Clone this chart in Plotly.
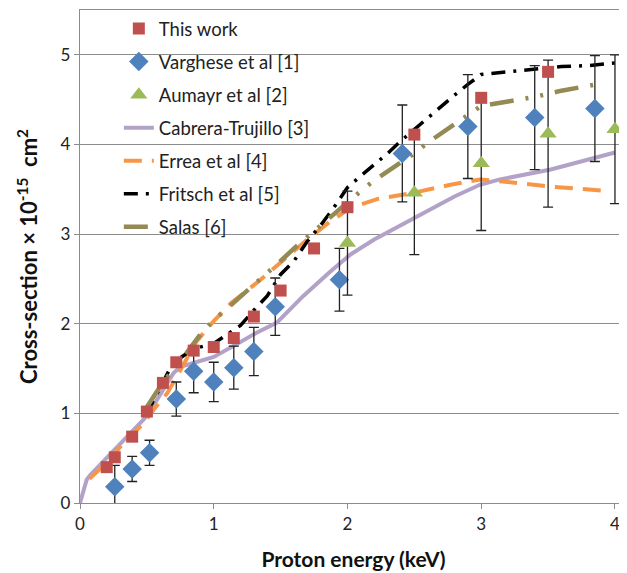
import plotly.graph_objects as go

# ---------------- data ----------------
tw_x = [0.20, 0.26, 0.39, 0.50, 0.62, 0.72, 0.85, 1.00, 1.15, 1.30, 1.50, 1.75, 2.00, 2.50, 3.00, 3.50]
tw_y = [0.40, 0.51, 0.74, 1.02, 1.34, 1.57, 1.70, 1.74, 1.84, 2.08, 2.37, 2.84, 3.30, 4.11, 4.52, 4.81]

var_x = [0.26, 0.39, 0.52, 0.72, 0.85, 1.00, 1.15, 1.30, 1.46, 1.94, 2.41, 2.90, 3.40, 3.85]
var_y = [0.18, 0.38, 0.56, 1.16, 1.47, 1.35, 1.51, 1.69, 2.19, 2.49, 3.90, 4.20, 4.30, 4.40]
var_err = [0.24, 0.14, 0.14, 0.19, 0.24, 0.22, 0.24, 0.27, 0.32, 0.35, 0.54, 0.58, 0.58, 0.59]

aum_x = [2.0, 2.5, 3.0, 3.5, 4.0]
aum_y = [2.90, 3.46, 3.79, 4.12, 4.17]
aum_err = [0.58, 0.69, 0.75, 0.82, 0.83]

cab_x = [0.0, 0.01, 0.025, 0.05, 0.075, 0.10, 0.17, 0.32, 0.50, 0.62, 0.70, 0.75, 0.82, 1.00, 1.17,
         1.32, 1.47, 1.67, 1.87, 2.02, 2.20, 2.39, 2.60, 2.80, 2.99, 3.14, 3.52, 4.00]
cab_y = [0.0, 0.06, 0.15, 0.26, 0.31, 0.35, 0.45, 0.69, 0.97, 1.26, 1.45, 1.52, 1.55, 1.63, 1.77,
         1.90, 2.01, 2.31, 2.58, 2.77, 2.94, 3.09, 3.26, 3.42, 3.55, 3.61, 3.72, 3.91]

err_x = [0.07, 0.20, 0.32, 0.47, 0.56, 0.65, 0.75, 0.87, 1.00, 1.13, 1.35, 1.55, 1.70, 1.87, 2.02,
         2.22, 2.49, 2.77, 2.99, 3.14, 3.52, 3.96]
err_y = [0.27, 0.45, 0.66, 0.88, 1.06, 1.22, 1.48, 1.80, 2.03, 2.23, 2.49, 2.75, 2.94, 3.14, 3.29,
         3.39, 3.46, 3.55, 3.61, 3.59, 3.53, 3.48]

fri_x = [0.50, 0.60, 0.68, 0.75, 0.85, 1.00, 1.10, 1.20, 1.30, 1.40, 1.50, 1.60, 1.70, 1.80, 1.90,
         2.00, 2.10, 2.20, 2.30, 2.40, 2.50, 2.60, 2.70, 2.80, 2.90, 3.00, 3.20, 3.40, 3.60, 3.80, 4.00]
fri_y = [1.00, 1.28, 1.52, 1.62, 1.72, 1.78, 1.88, 1.98, 2.15, 2.31, 2.55, 2.70, 2.92, 3.10, 3.30,
         3.52, 3.65, 3.77, 3.90, 4.04, 4.17, 4.29, 4.42, 4.55, 4.67, 4.78, 4.81, 4.84, 4.87, 4.88, 4.91]

sal_x = [0.50, 0.60, 0.70, 0.80, 0.90, 1.00, 1.10, 1.20, 1.30, 1.40, 1.50, 1.60, 1.70, 1.80, 1.90,
         2.00, 2.10, 2.20, 2.30, 2.40, 2.50, 2.60, 2.70, 2.80, 2.90, 3.00, 3.20, 3.40, 3.60, 3.80, 3.90]
sal_y = [1.07, 1.30, 1.50, 1.68, 1.88, 2.04, 2.17, 2.30, 2.43, 2.57, 2.70, 2.84, 2.97, 3.10, 3.22,
         3.35, 3.48, 3.60, 3.70, 3.80, 3.90, 4.02, 4.12, 4.23, 4.33, 4.43, 4.48, 4.53, 4.60, 4.65, 4.68]

x_ticks = [0, 1, 2, 3, 4]
y_ticks = [0, 1, 2, 3, 4, 5]

FONT = "Lato"
GRID = "#8c8c8c"

fig = go.Figure()

# lines first (drawn beneath markers)
fig.add_trace(go.Scatter(x=cab_x, y=cab_y, mode="lines", name="Cabrera-Trujillo [3]",
                         line=dict(color="#B3A2C7", width=4), legendrank=4, legendgroup="g4"))
fig.add_trace(go.Scatter(x=err_x, y=err_y, mode="lines", name="Errea et al [4]",
                         line=dict(color="#F79646", width=4, dash="18px,10px"), legendrank=5, legendgroup="g5"))
fig.add_trace(go.Scatter(x=fri_x, y=fri_y, mode="lines", name="Fritsch et al [5]",
                         line=dict(color="black", width=3.5, dash="14px,8px,3px,8px"), legendrank=6, legendgroup="g6"))
fig.add_trace(go.Scatter(x=sal_x, y=sal_y, mode="lines", name="Salas [6]",
                         line=dict(color="#948A54", width=4.5, dash="24px,12px,3px,12px,3px,12px"),
                         legendrank=7, legendgroup="g7"))

fig.add_trace(go.Scatter(x=var_x, y=var_y, mode="markers", name="Varghese et al [1]",
                         marker=dict(symbol="diamond", size=15, color="#4F81BD"),
                         error_y=dict(type="data", array=var_err, color="#222222", thickness=1.3, width=5),
                         legendrank=2, legendgroup="g2"))
fig.add_trace(go.Scatter(x=aum_x, y=aum_y, mode="markers", name="Aumayr et al [2]",
                         marker=dict(symbol="triangle-up", size=15, color="#9BBB59"),
                         error_y=dict(type="data", array=aum_err, color="#222222", thickness=1.3, width=5),
                         legendrank=3, legendgroup="g3"))
fig.add_trace(go.Scatter(x=tw_x, y=tw_y, mode="markers", name="This work",
                         marker=dict(symbol="square", size=12, color="#C0504D"),
                         legendrank=1, legendgroup="g1"))

fig.update_layout(
    width=627, height=573,
    margin=dict(l=72, r=8, t=2, b=78),
    paper_bgcolor="white", plot_bgcolor="white",
    font=dict(family=FONT, size=16, color="#222222"),
    showlegend=True,
    legend=dict(x=0.071, y=1.0, xanchor="left", yanchor="top",
                bgcolor="rgba(0,0,0,0)",
                font=dict(family=FONT, size=18.5, color="#222222"), tracegroupgap=6,
                traceorder="grouped"),
    xaxis=dict(range=[0, 4.09], tickvals=x_ticks, ticktext=[str(v) for v in x_ticks],
               showgrid=False, zeroline=False, showline=True, linecolor=GRID, linewidth=1.3,
               mirror=True, ticks="outside", ticklen=5, tickcolor=GRID, automargin=False,
               tickfont=dict(size=17, color="#222222"),
               title=dict(text="<b>Proton energy (keV)</b>", font=dict(size=21, color="#111111"), standoff=19)),
    yaxis=dict(range=[0, 5.5], tickvals=y_ticks, ticktext=[str(v) for v in y_ticks],
               showgrid=True, gridcolor=GRID, gridwidth=1.2, zeroline=False, automargin=False,
               showline=True, linecolor=GRID, linewidth=1.3, ticks="outside", ticklen=5, tickcolor=GRID,
               tickfont=dict(size=17, color="#222222"),
               title=dict(text="<b>Cross-section × 10<sup>-15</sup>  cm<sup>2</sup></b>",
                          font=dict(size=22, color="#111111"), standoff=16)),
)

fig.write_html("out.html")
